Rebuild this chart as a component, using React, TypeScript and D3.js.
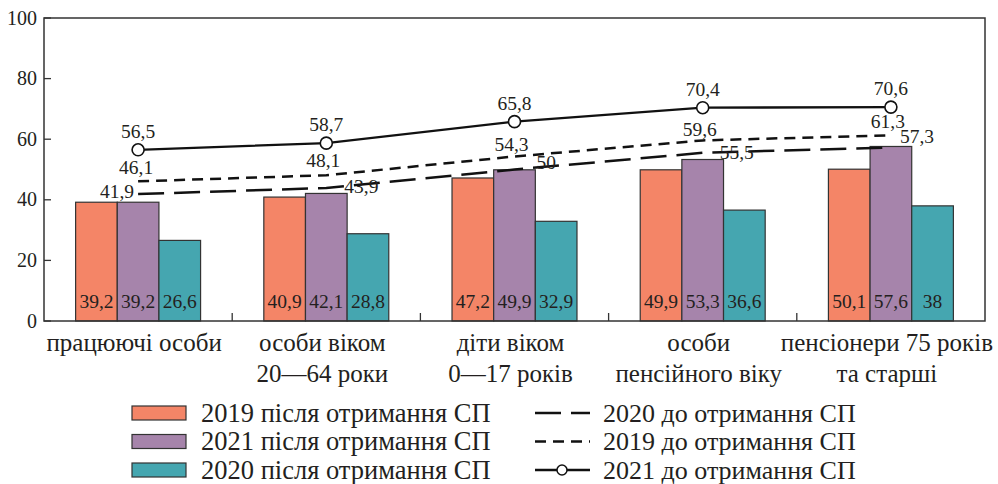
import * as d3 from "d3";

const categories = [
  ["працюючі особи"],
  ["особи віком", "20—64 роки"],
  ["діти віком", "0—17 років"],
  ["особи", "пенсійного віку"],
  ["пенсіонери 75 років", "та старші"],
];

const barSeries = ["2019 після отримання СП", "2021 після отримання СП", "2020 після отримання СП"];
const bars2019 = [39.2, 40.9, 47.2, 49.9, 50.1];
const bars2021 = [39.2, 42.1, 49.9, 53.3, 57.6];
const bars2020 = [26.6, 28.8, 32.9, 36.6, 38];

const line2020 = [41.9, 43.9, 50, 55.5, 57.3];
const line2019 = [46.1, 48.1, 54.3, 59.6, 61.3];
const line2021 = [56.5, 58.7, 65.8, 70.4, 70.6];

const yTicks = [0, 20, 40, 60, 80, 100];

const W = 998;
const H = 484;
const FONT = "'Liberation Serif', 'DejaVu Serif', serif";
const barColors = ["#f48567", "#a684ab", "#45a6b0"];

const fmt = (v: number) => String(v).replace(".", ",");

// label offsets for the line values (dx, dy, anchor)
const lbl2021 = line2021.map(() => ({ dx: 0, dy: -12, anchor: "middle" }));
const lbl2019 = [
  { dx: -2, dy: -7, anchor: "middle" },
  { dx: -3, dy: -8, anchor: "middle" },
  { dx: -3, dy: -5, anchor: "middle" },
  { dx: -3, dy: -4, anchor: "middle" },
  { dx: -3, dy: -7, anchor: "middle" },
];
const lbl2020 = [
  { dx: -4, dy: 4, anchor: "end" },
  { dx: 18, dy: 5, anchor: "start" },
  { dx: 22, dy: -1, anchor: "start" },
  { dx: 17, dy: 6, anchor: "start" },
  { dx: 9, dy: -4, anchor: "start" },
];

export default function App() {
  const x0 = d3.scaleBand<number>().domain(d3.range(categories.length)).range([44, 985]);
  const bw = x0.bandwidth();
  const x1 = d3.scaleBand<number>().domain([0, 1, 2]).range([bw * 0.168, bw * 0.832]);
  const y = d3.scaleLinear().domain([0, 100]).range([321, 18]);
  const cx = (i: number) => (x0(i) as number) + bw / 2;

  const barData = [bars2019, bars2021, bars2020];

  const line = d3
    .line<number>()
    .x((_, i) => cx(i))
    .y((d) => y(d));

  const legendLeft = barSeries.map((s, i) => ({ s, i }));
  const legendRight = [
    { s: "2020 до отримання СП", dash: "26,10", marker: false },
    { s: "2019 до отримання СП", dash: "11,7", marker: false },
    { s: "2021 до отримання СП", dash: "", marker: true },
  ];

  return (
    <div style={{ position: "absolute", left: 0, top: 0 }}>
      <svg width={W} height={H} style={{ display: "block", fontFamily: FONT }}>
        <rect width={W} height={H} fill="#fff" />
        {/* bars */}
        {barData.map((vals, s) =>
          vals.map((v, i) => (
            <rect
              key={`b${s}-${i}`}
              x={(x0(i) as number) + (x1(s) as number)}
              y={y(v)}
              width={x1.bandwidth()}
              height={y(0) - y(v)}
              fill={barColors[s]}
              stroke="#333"
              strokeWidth={1.2}
            />
          ))
        )}
        {barData.map((vals, s) =>
          vals.map((v, i) => (
            <text
              key={`bl${s}-${i}`}
              x={(x0(i) as number) + (x1(s) as number) + x1.bandwidth() / 2}
              y={308}
              textAnchor="middle"
              fontSize={19.5}
              fill="#231f20"
            >
              {fmt(v)}
            </text>
          ))
        )}
        {/* frame */}
        <rect x={44} y={18} width={941} height={303} fill="none" stroke="#333" strokeWidth={1.5} />
        {/* y ticks */}
        {yTicks.map((t) => (
          <g key={`yt${t}`}>
            <line x1={44} x2={51} y1={y(t)} y2={y(t)} stroke="#333" strokeWidth={1.3} />
            <text x={37} y={y(t) + 6.5} textAnchor="end" fontSize={20} fill="#231f20">
              {t}
            </text>
          </g>
        ))}
        {/* x ticks */}
        {d3.range(1, categories.length).map((i) => (
          <line
            key={`xt${i}`}
            x1={x0(i)}
            x2={x0(i)}
            y1={321}
            y2={313}
            stroke="#333"
            strokeWidth={1.3}
          />
        ))}
        {categories.map((lines, i) => (
          <text key={`cat${i}`} x={cx(i)} textAnchor="middle" fontSize={25} fill="#231f20">
            {lines.map((l, k) => (
              <tspan key={k} x={cx(i) - 4} y={351 + k * 31}>
                {l}
              </tspan>
            ))}
          </text>
        ))}
        {/* lines */}
        <path d={line(line2020) as string} fill="none" stroke="#111" strokeWidth={2.5} strokeDasharray="26,10" />
        <path d={line(line2019) as string} fill="none" stroke="#111" strokeWidth={2.5} strokeDasharray="11,7" />
        <path d={line(line2021) as string} fill="none" stroke="#111" strokeWidth={2.3} />
        {line2021.map((v, i) => (
          <circle key={`m${i}`} cx={cx(i)} cy={y(v)} r={6} fill="#fff" stroke="#111" strokeWidth={1.6} />
        ))}
        {[
          { vals: line2021, lbl: lbl2021 },
          { vals: line2019, lbl: lbl2019 },
          { vals: line2020, lbl: lbl2020 },
        ].map(({ vals, lbl }, s) =>
          vals.map((v, i) => (
            <text
              key={`ll${s}-${i}`}
              x={cx(i) + lbl[i].dx}
              y={y(v) + lbl[i].dy}
              textAnchor={lbl[i].anchor as any}
              fontSize={19.5}
              fill="#231f20"
            >
              {fmt(v)}
            </text>
          ))
        )}
        {/* legend */}
        {legendLeft.map(({ s, i }) => (
          <g key={`lg${i}`} transform={`translate(132,${406 + i * 28.5})`}>
            <rect width={54} height={14} fill={barColors[i]} stroke="#333" strokeWidth={1.2} />
            <text x={69} y={15.5} fontSize={26.5} fill="#231f20">
              {s}
            </text>
          </g>
        ))}
        {legendRight.map((d, i) => (
          <g key={`lr${i}`} transform={`translate(535,${413 + i * 28.5})`}>
            <line x1={0} x2={55} y1={0} y2={0} stroke="#111" strokeWidth={2.5} strokeDasharray={d.dash || undefined} />
            {d.marker && <circle cx={27} cy={0} r={5} fill="#fff" stroke="#111" strokeWidth={1.5} />}
            <text x={68} y={8.5} fontSize={26} fill="#231f20">
              {d.s}
            </text>
          </g>
        ))}
      </svg>
    </div>
  );
}
